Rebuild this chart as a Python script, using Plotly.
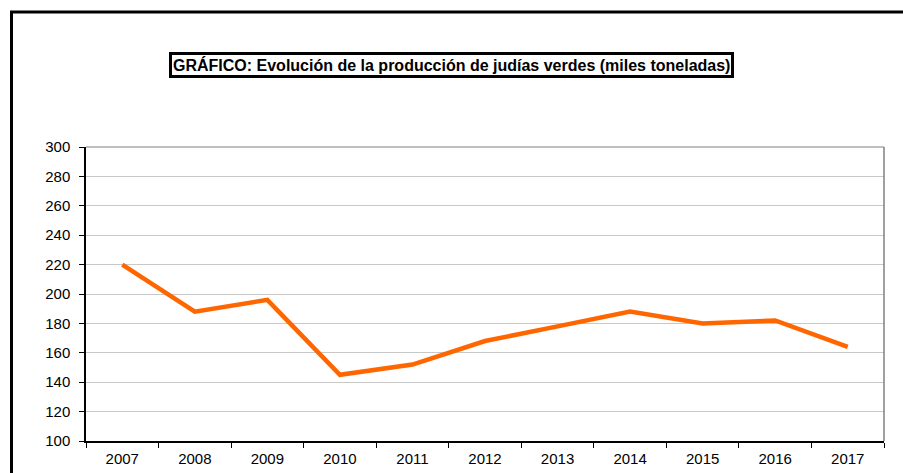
import plotly.graph_objects as go

years = ["2007", "2008", "2009", "2010", "2011", "2012", "2013", "2014", "2015", "2016", "2017"]
produccion = [220, 188, 196, 145, 152, 168, 178, 188, 180, 182, 164]
y_ticks = [100, 120, 140, 160, 180, 200, 220, 240, 260, 280, 300]
titulo = "GRÁFICO: Evolución de la producción de judías verdes (miles toneladas)"

FONT = "Liberation Sans, Arial, sans-serif"

fig = go.Figure()
fig.add_trace(go.Scatter(
    x=years, y=produccion, mode="lines",
    line=dict(color="#FF6600", width=4.5),
    showlegend=False, hoverinfo="x+y",
))

fig.update_layout(
    width=903, height=473,
    margin=dict(l=86, r=19, t=147, b=32, autoexpand=False),
    paper_bgcolor="white", plot_bgcolor="white",
    font=dict(family=FONT, size=15, color="black"),
    xaxis=dict(
        type="category", tickson="boundaries",
        range=[-0.5, len(years) - 0.5], automargin=False,
        ticks="outside", ticklen=5, tickcolor="black", tickwidth=1,
        ticklabelstandoff=3,
        showline=True, linecolor="black", linewidth=1.5,
        showgrid=False, zeroline=False,
        tickfont=dict(size=15, family=FONT, color="black"),
    ),
    yaxis=dict(
        range=[100, 300], tickvals=y_ticks, automargin=False,
        ticks="outside", ticklen=5, tickcolor="black", tickwidth=1,
        ticklabelstandoff=6,
        showline=True, linecolor="black", linewidth=1.5,
        showgrid=True, gridcolor="#C8C8C8", gridwidth=1,
        zeroline=False,
        tickfont=dict(size=15, family=FONT, color="black"),
    ),
    shapes=[
        # plot frame right and top
        dict(type="line", xref="paper", yref="paper", x0=1, x1=1, y0=0, y1=1,
             line=dict(color="#808080", width=1.5)),
        dict(type="line", xref="paper", yref="paper", x0=0, x1=1, y0=1, y1=1,
             line=dict(color="#808080", width=1)),
        # outer chart border (extends off-canvas right and bottom)
        dict(type="rect", xref="paper", yref="paper",
             x0=(11.5 - 86) / 798, x1=1.2, y0=-0.3, y1=(441 - 12) / 294,
             line=dict(color="black", width=3), fillcolor="rgba(0,0,0,0)"),
    ],
    annotations=[
        dict(text="<b>" + titulo + "</b>", xref="paper", yref="paper",
             x=(451.5 - 86) / 798, y=(441 - 64.5) / 294,
             xanchor="center", yanchor="middle", showarrow=False,
             font=dict(family=FONT, size=16, color="black"),
             bordercolor="black", borderwidth=3, borderpad=1,
             bgcolor="white"),
    ],
)

fig.write_html("out.html",
               config={"displayModeBar": False},
               post_script="document.body.style.margin='0';document.body.style.overflow='hidden';")
